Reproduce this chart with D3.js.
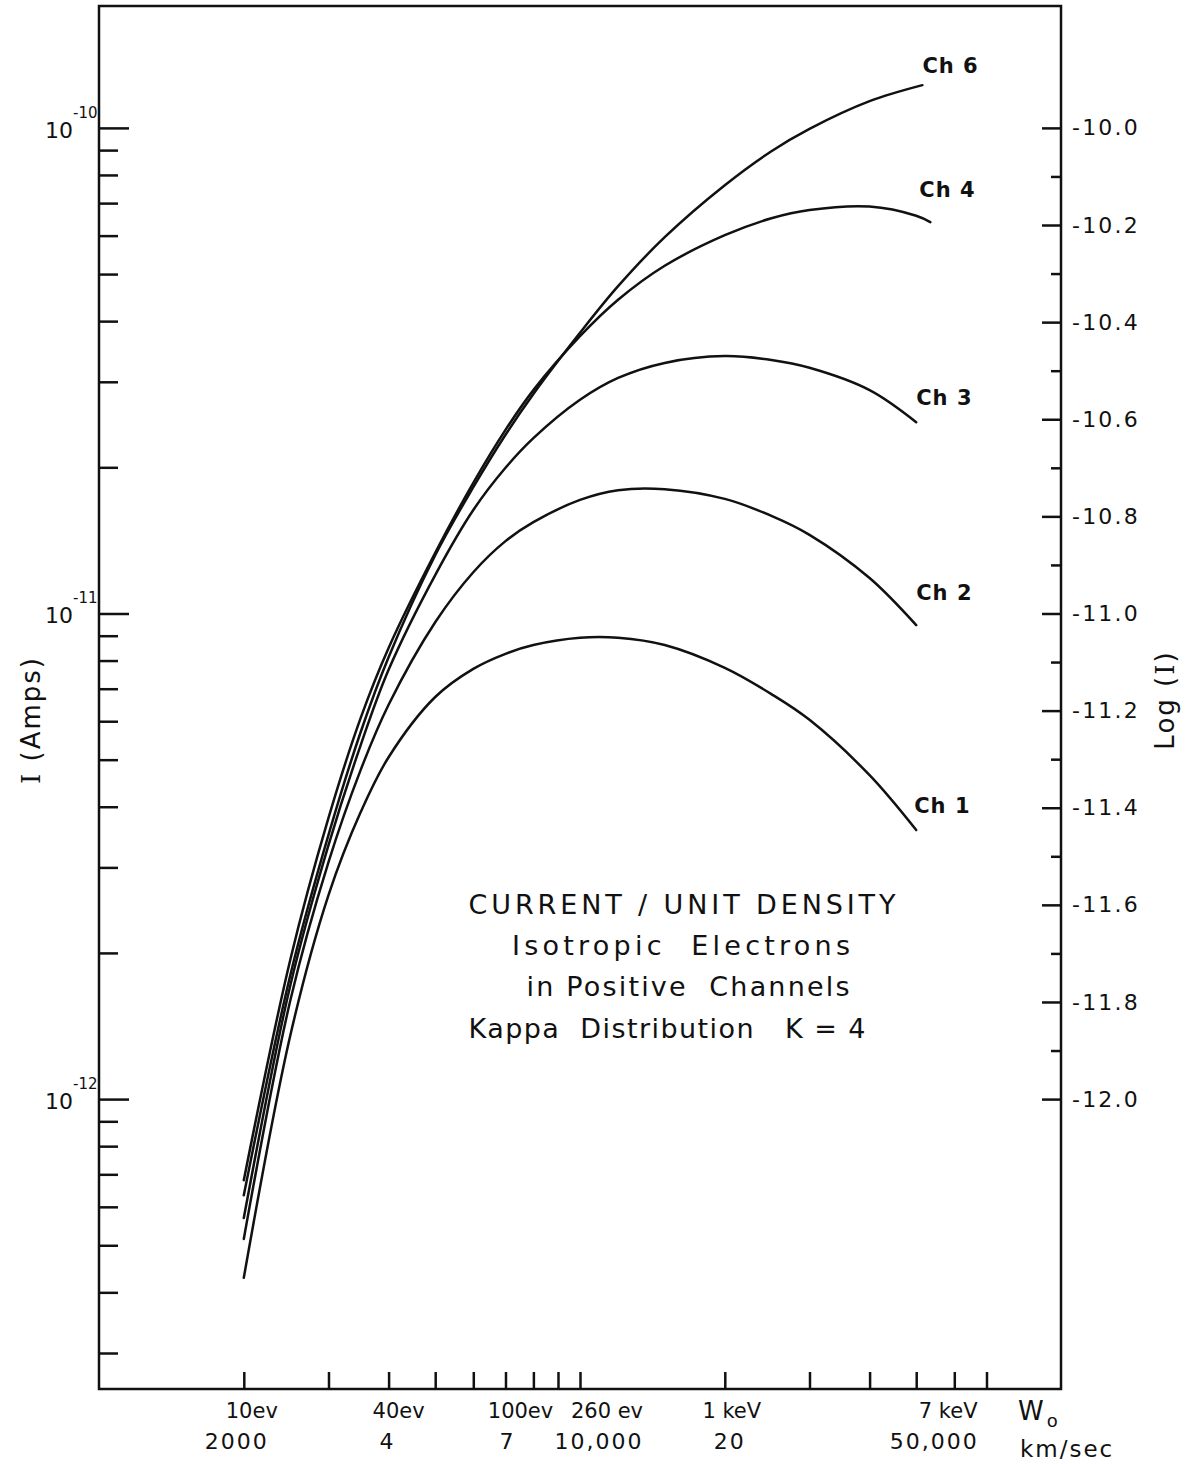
<!DOCTYPE html>
<html>
<head>
<meta charset="utf-8">
<script src="https://cdn.jsdelivr.net/npm/d3@7"></script>
<style>
  body { margin: 0; background: #fff; }
  svg text { font-family: "DejaVu Sans", sans-serif; fill: #111; }
</style>
</head>
<body>
<div id="chart"></div>
<script>
// Current / unit density vs. velocity

// velocities (km/sec) the curves were read at
const velocity = [2000, 2500, 3000, 3500, 4000, 5000, 6000, 7000, 8000, 10000, 12000, 15000, 20000, 25000, 30000, 40000, 50000];
const velocityCh4 = [2000, 2500, 3000, 3500, 4000, 5000, 6000, 7000, 8000, 10000, 12000, 15000, 20000, 25000, 30000, 40000, 50000, 53500];
const velocityCh6 = [2000, 2500, 3000, 3500, 4000, 5000, 6000, 7000, 8000, 10000, 12000, 15000, 20000, 25000, 30000, 40000, 51500];

// log10 of the current (amps)
const logCh1 = [-12.368, -11.868, -11.580, -11.409, -11.296, -11.172, -11.114, -11.083, -11.065, -11.050, -11.050, -11.065, -11.112, -11.166, -11.219, -11.333, -11.446];
const logCh2 = [-12.288, -11.796, -11.512, -11.322, -11.188, -11.018, -10.915, -10.851, -10.812, -10.766, -10.746, -10.744, -10.764, -10.799, -10.838, -10.927, -11.024];
const logCh3 = [-12.245, -11.765, -11.477, -11.271, -11.116, -10.921, -10.787, -10.700, -10.639, -10.560, -10.515, -10.484, -10.470, -10.478, -10.494, -10.540, -10.606];
const logCh4 = [-12.167, -11.712, -11.421, -11.215, -11.071, -10.875, -10.731, -10.622, -10.540, -10.429, -10.354, -10.284, -10.221, -10.186, -10.169, -10.162, -10.181, -10.194];
const logCh6 = [-12.198, -11.744, -11.456, -11.244, -11.090, -10.880, -10.740, -10.632, -10.548, -10.422, -10.326, -10.225, -10.118, -10.048, -10.002, -9.945, -9.912];

const channelNames = ["Ch 1", "Ch 2", "Ch 3", "Ch 4", "Ch 6"];

// axis ticks and labels
const bottomTicks = [2000, 3000, 4000, 5000, 6000, 7000, 8000, 9000, 10000, 20000, 30000, 40000, 50000, 60000, 70000];
const labelVelocity = [2000, 4000, 7000, 10000, 20000, 50000];
const energyLabels = ["10ev", "40ev", "100ev", "260 ev", "1 keV", "7 keV"];
const speedLabels = ["2000", "4", "7", "10,000", "20", "50,000"];
const decadeTicks = [1e-10, 1e-11, 1e-12];
const decadeExp = ["-10", "-11", "-12"];
const minorMantissa = [2, 3, 4, 5, 6, 7, 8, 9];
const logMajor = [-10.0, -10.2, -10.4, -10.6, -10.8, -11.0, -11.2, -11.4, -11.6, -11.8, -12.0];
const logMinor = [-10.1, -10.3, -10.5, -10.7, -10.9, -11.1, -11.3, -11.5, -11.7, -11.9];
const titleLines = ["CURRENT / UNIT DENSITY", "Isotropic  Electrons", "in Positive  Channels", "Kappa  Distribution   K = 4"];

// layout
const width = 1197;
const height = 1464;
const frame = {left: 99, right: 1061, top: 6, bottom: 1389};
const logRange = [-12.597, -9.749];

const svg = d3.select("#chart")
  .append("svg")
  .attr("width", width)
  .attr("height", height)
  .attr("viewBox", [0, 0, width, height]);

const x = d3.scaleLog().domain([1000, 100000]).range([frame.left, frame.right]);
const yAmps = d3.scaleLog()
  .domain([Math.pow(10, logRange[0]), Math.pow(10, logRange[1])])
  .range([frame.bottom, frame.top]);
const yLog = d3.scaleLinear().domain(logRange).range([frame.bottom, frame.top]);

const ink = "#111";
const strokeW = 2.5;

function cleanAxis(g) {
  g.select(".domain").remove();
  g.selectAll(".tick line").attr("stroke", ink).attr("stroke-width", strokeW);
}

// frame
svg.append("rect")
  .attr("x", frame.left).attr("y", frame.top)
  .attr("width", frame.right - frame.left)
  .attr("height", frame.bottom - frame.top)
  .attr("fill", "none").attr("stroke", ink).attr("stroke-width", strokeW);

// left axis: decades long, minor ticks short
const minorAmps = [];
[-13, -12, -11].forEach(e => minorMantissa.forEach(m => {
  const v = m * Math.pow(10, e);
  if (v > yAmps.domain()[0] && v < yAmps.domain()[1]) minorAmps.push(v);
}));

svg.append("g")
  .attr("transform", `translate(${frame.left},0)`)
  .call(d3.axisRight(yAmps).tickValues(decadeTicks).tickSize(30).tickFormat(""))
  .call(cleanAxis);
svg.append("g")
  .attr("transform", `translate(${frame.left},0)`)
  .call(d3.axisRight(yAmps).tickValues(minorAmps).tickSize(19).tickFormat(""))
  .call(cleanAxis);

// decade labels 10^-n
const decLab = svg.append("g").selectAll("g")
  .data(decadeTicks)
  .join("g")
  .attr("transform", d => `translate(0,${yAmps(d)})`);
decLab.append("text")
  .attr("x", 73).attr("y", 10)
  .attr("text-anchor", "end")
  .attr("font-size", 22)
  .text("10");
decLab.append("text")
  .attr("x", 73).attr("y", -10)
  .attr("font-size", 15)
  .text((d, i) => decadeExp[i]);

// right axis: Log(I)
svg.append("g")
  .attr("transform", `translate(${frame.right},0)`)
  .call(d3.axisRight(yLog).tickValues(logMajor).tickSizeInner(-19).tickSizeOuter(0)
    .tickPadding(11).tickFormat(d => d.toFixed(1)))
  .call(cleanAxis)
  .call(g => g.selectAll("text")
    .attr("font-family", "DejaVu Sans").attr("font-size", 22)
    .attr("letter-spacing", 2.2).attr("fill", ink));
svg.append("g")
  .attr("transform", `translate(${frame.right},0)`)
  .call(d3.axisRight(yLog).tickValues(logMinor).tickSizeInner(-10).tickSizeOuter(0).tickFormat(""))
  .call(cleanAxis);

// bottom axis
svg.append("g")
  .attr("transform", `translate(0,${frame.bottom})`)
  .call(d3.axisBottom(x).tickValues(bottomTicks).tickSizeInner(-17).tickSizeOuter(0).tickFormat(""))
  .call(cleanAxis);

// bottom labels (hand lettered, so nudged off the ticks a little)
const energyNudge = [8, 10, 15, 27, 7, 32];
const speedNudge = [-7, -1, 2, 19, 5, 18];
svg.append("g").selectAll("text")
  .data(labelVelocity)
  .join("text")
  .attr("x", (d, i) => x(d) + energyNudge[i])
  .attr("y", 1418)
  .attr("text-anchor", "middle")
  .attr("font-size", 21)
  .style("white-space", "pre")
  .text((d, i) => energyLabels[i]);
svg.append("g").selectAll("text")
  .data(labelVelocity)
  .join("text")
  .attr("x", (d, i) => x(d) + speedNudge[i])
  .attr("y", 1449)
  .attr("text-anchor", "middle")
  .attr("font-size", 22)
  .attr("letter-spacing", 2)
  .text((d, i) => speedLabels[i]);

const wLab = svg.append("text").attr("x", 1018).attr("y", 1420).attr("font-size", 26);
wLab.append("tspan").text("W");
wLab.append("tspan").attr("dy", 7).attr("dx", 3).attr("font-size", 18).text("o");
svg.append("text")
  .attr("x", 1020).attr("y", 1457)
  .attr("font-size", 23)
  .attr("letter-spacing", 2)
  .text("km/sec");

// axis titles
const leftTitle = svg.append("text")
  .attr("transform", "translate(40,720) rotate(-90)")
  .attr("text-anchor", "middle")
  .attr("font-size", 26)
  .attr("letter-spacing", 2);
leftTitle.append("tspan").attr("font-family", "DejaVu Serif").text("I");
leftTitle.append("tspan").text(" (Amps)");

const rightTitle = svg.append("text")
  .attr("transform", "translate(1174,700) rotate(-90)")
  .attr("text-anchor", "middle")
  .attr("font-size", 26)
  .attr("letter-spacing", 2);
rightTitle.append("tspan").text("Log (");
rightTitle.append("tspan").attr("font-family", "DejaVu Serif").text("I");
rightTitle.append("tspan").text(")");

// curves
const series = [
  {name: channelNames[4], v: velocityCh6, logI: logCh6, dx: 0, dy: -12},
  {name: channelNames[3], v: velocityCh4, logI: logCh4, dx: -11, dy: -25},
  {name: channelNames[2], v: velocity, logI: logCh3, dx: 0, dy: -17},
  {name: channelNames[1], v: velocity, logI: logCh2, dx: 0, dy: -25},
  {name: channelNames[0], v: velocity, logI: logCh1, dx: -2, dy: -17}
];

const line = d3.line()
  .x(d => x(d[0]))
  .y(d => yLog(d[1]))
  .curve(d3.curveCatmullRom.alpha(0.5));

svg.append("g").selectAll("path")
  .data(series)
  .join("path")
  .attr("d", s => line(s.v.map((v, i) => [v, s.logI[i]])))
  .attr("fill", "none")
  .attr("stroke", ink)
  .attr("stroke-width", strokeW)
  .attr("stroke-linecap", "round")
  .attr("stroke-linejoin", "round");

svg.append("g").selectAll("text")
  .data(series)
  .join("text")
  .attr("x", s => x(s.v[s.v.length - 1]) + s.dx)
  .attr("y", s => yLog(s.logI[s.logI.length - 1]) + s.dy)
  .attr("font-size", 21)
  .attr("font-weight", "bold")
  .attr("letter-spacing", 1)
  .style("white-space", "pre")
  .text(s => s.name);

// caption block
const titleBox = [
  {cx: 682, y: 914, w: 427},
  {cx: 681, y: 955, w: 338},
  {cx: 688, y: 996, w: 323},
  {cx: 667, y: 1038, w: 397}
];
svg.append("g").selectAll("text")
  .data(titleLines)
  .join("text")
  .attr("x", (d, i) => titleBox[i].cx - titleBox[i].w / 2)
  .attr("y", (d, i) => titleBox[i].y)
  .attr("font-size", 27)
  .attr("textLength", (d, i) => titleBox[i].w)
  .attr("lengthAdjust", "spacing")
  .style("white-space", "pre")
  .text(d => d);
</script>
</body>
</html>
